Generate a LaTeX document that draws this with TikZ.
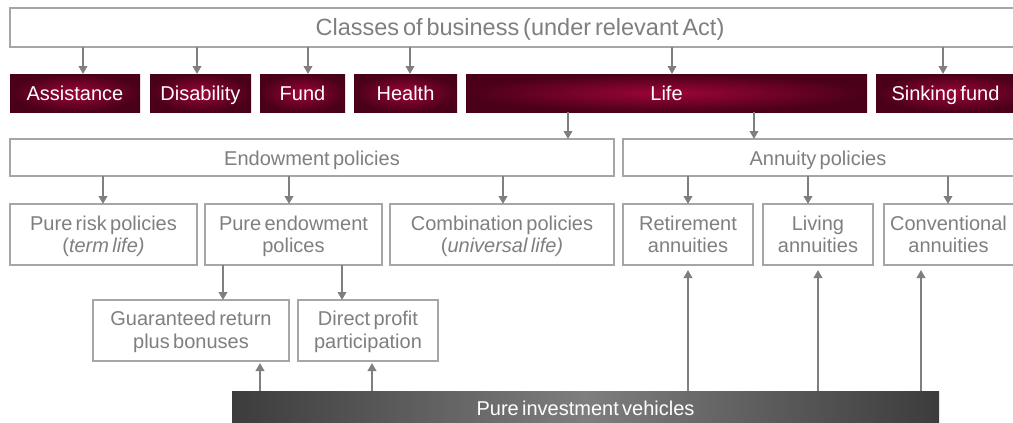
\documentclass[tikz,border=0pt]{standalone}
\usepackage{fontspec}
\setmainfont[WordSpace=0.6]{Liberation Sans}
\usetikzlibrary{arrows.meta,calc}
\definecolor{txt}{HTML}{7F7F7F}
\definecolor{bord}{HTML}{A6A6A6}
\definecolor{arrc}{HTML}{7F7F7F}
\definecolor{redin}{HTML}{9C0538}
\definecolor{redout}{HTML}{4A0018}
\definecolor{barout}{HTML}{3C3C3C}
\definecolor{barin}{HTML}{7E7E7E}
\newcommand{\bx}[7]{\node[#6, minimum width={#4pt-#2pt}, minimum height={#5pt-#3pt}] (#1) at ({(#2+#4)/2},{(#3+#5)/2}) {#7};}
\begin{document}
\begin{tikzpicture}[x=1pt,y=-1pt,
  graybox/.style={draw=bord, line width=1.2pt, fill=white, inner sep=0pt, outer sep=0pt, text=txt, align=center, font=\fontsize{20}{22.7}\selectfont},
  one/.style={text height=15pt, text depth=0pt},
  two/.style={text height=37pt, text depth=0.6pt},
  redbox/.style={inner sep=0pt, outer sep=0pt, shading=radial, inner color=redin, outer color=redout, text=white, font=\fontsize{20}{23}\selectfont, text height=14pt, text depth=0pt},
  conn/.style={draw=arrc, line width=2.6pt, -{Triangle[width=8.5pt,length=8pt]}}]
\useasboundingbox (0,0) rectangle (1013,423);
% top
\bx{top}{10}{8}{1030}{47}{graybox, font=\fontsize{23.5}{26}\selectfont, text height=16pt, text depth=1pt}{Classes of business (under relevant Act)}
% red row
\bx{assist}{10}{74}{140}{112}{redbox}{Assistance}
\bx{disab}{150}{74}{251}{112}{redbox}{Disability}
\bx{fund}{260}{74}{345}{112}{redbox}{Fund}
\bx{health}{354}{74}{457}{112}{redbox}{Health}
\bx{life}{466}{74}{867}{112}{redbox}{Life}
\bx{sink}{876}{74}{1030}{112}{redbox}{\hspace*{-15pt}Sinking fund}
% second row
\bx{endow}{10}{139}{614}{176}{graybox, one}{Endowment policies}
\bx{annu}{623}{139}{1030}{176}{graybox, one}{\hspace*{-17pt}Annuity policies}
% third row
\bx{risk}{10}{204}{197}{265}{graybox, two}{Pure risk policies\\(\textit{term life)}}
\bx{pendow}{205}{204}{382}{265}{graybox, two}{Pure endowment\\polices}
\bx{comb}{390}{204}{614}{265}{graybox, two}{Combination policies\\(\textit{universal life)}}
\bx{retire}{623}{204}{753}{265}{graybox, two}{Retirement\\annuities}
\bx{living}{763}{204}{873}{265}{graybox, two}{Living\\annuities}
\bx{conv}{884}{204}{1040}{265}{graybox, two}{\hspace*{-27pt}Conventional\\\hspace*{-27pt}annuities}
% fourth row
\bx{guar}{93}{300}{289}{361}{graybox, two, text depth=1.4pt}{Guaranteed return\\plus bonuses}
\bx{direct}{298}{300}{438}{361}{graybox, two, text depth=1.4pt}{Direct profit\\participation}
% bottom bar
\bx{bar}{232}{391}{939}{424}{inner sep=0pt, outer sep=0pt, left color=barout, right color=barout, middle color=barin, text=white, font=\fontsize{20}{23}\selectfont, text height=15pt, text depth=0pt}{Pure investment vehicles}
% connectors
\foreach \xx/\n in {83/assist,197/disab,308/fund,410/health,672/life,943/sink}
  \draw[conn] (\xx,0 |- top.south) -- (\xx,0 |- \n.north);
\draw[conn] (568,0 |- life.south) -- (568,0 |- endow.north);
\draw[conn] (754,0 |- life.south) -- (754,0 |- annu.north);
\foreach \xx/\n in {103/risk,289/pendow,503/comb}
  \draw[conn] (\xx,0 |- endow.south) -- (\xx,0 |- \n.north);
\foreach \xx/\n in {688/retire,808/living,948/conv}
  \draw[conn] (\xx,0 |- annu.south) -- (\xx,0 |- \n.north);
\draw[conn] (223,0 |- pendow.south) -- (223,0 |- guar.north);
\draw[conn] (342,0 |- pendow.south) -- (342,0 |- direct.north);
\foreach \xx/\n in {260/guar,372/direct}
  \draw[conn, shorten >=2pt] (\xx,0 |- bar.north) -- (\xx,0 |- \n.south);
\foreach \xx/\n in {688/retire,818/living,921/conv}
  \draw[conn, shorten >=5pt] (\xx,0 |- bar.north) -- (\xx,0 |- \n.south);
\end{tikzpicture}
\end{document}
